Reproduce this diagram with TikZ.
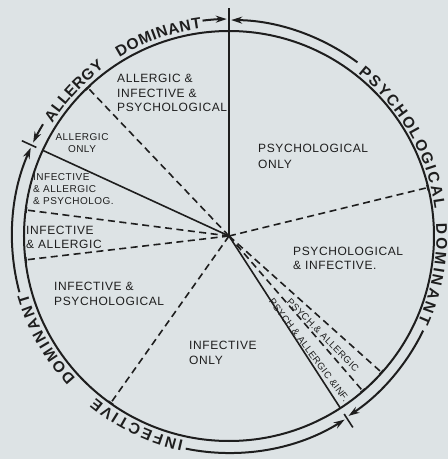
\documentclass[tikz,border=0pt]{standalone}
\usepackage{fontspec}
\setmainfont{Liberation Sans}
\newfontfamily\lblfont{Liberation Sans}[LetterSpace=5]
\newfontfamily\rimfont{Liberation Sans}
\usetikzlibrary{arrows.meta,decorations.text}
\definecolor{paper}{RGB}{221,227,229}
\definecolor{ink}{RGB}{30,30,30}
\tikzset{
  rim/.style={line width=2pt},
  spoke/.style={line width=1.6pt},
  dspoke/.style={line width=1.6pt, dash pattern=on 7pt off 4.5pt, -{Bar[width=6pt,line width=1.4pt]}},
  tick/.style={line width=1.6pt},
  rimarrow/.style={line width=2pt, -{Stealth[length=11pt,width=7pt]}},
  rimtext/.style={decorate, decoration={text along path, text align={fit to path},
      text={|\color{ink}\rimfont\bfseries\fontsize{15.5}{16}\selectfont|#1}}},
  lbl/.style={font=\lblfont\fontsize{12}{14.5}\selectfont, align=left, inner sep=0pt, anchor=west},
  small/.style={font=\lblfont\fontsize{10}{12}\selectfont},
  tiny/.style={font=\lblfont\fontsize{9.5}{11}\selectfont}
}

\begin{document}
\begin{tikzpicture}[x=1pt,y=1pt,color=ink]
  \fill[paper] (-229,-223) rectangle (219,236);
  \useasboundingbox (-229,-223) rectangle (219,236);
  \coordinate (o) at (0,0);

  % pie
  \draw[rim] (o) circle[radius=205];
  \foreach \a [count=\i] in {133.6,172.7,186.7,234.7,310.8,318.2,13.7}
    {\coordinate (d\i) at (\a:205);
     \draw[dspoke] (o) -- (d\i);}
  \coordinate (s1) at (90:228);
  \coordinate (s2) at (155.3:205);
  \coordinate (s3) at (302.9:205);
  \draw[spoke] (o) -- (s1);
  \draw[spoke] (o) -- (s2);
  \draw[spoke] (o) -- (s3);

  % dividers on the rim
  \foreach \a [count=\i] in {155.3,302.9}
    {\coordinate (ta\i) at (\a:212);
     \coordinate (tb\i) at (\a:228);
     \draw[tick] (ta\i) -- (tb\i);}

  % rim arrows
  \draw[rimarrow] (149:217) arc[start angle=149, end angle=154.5, radius=217];
  \draw[rimarrow] (97:217) arc[start angle=97, end angle=90.6, radius=217];
  \draw[rimarrow] (53.5:216) arc[start angle=53.5, end angle=89.4, radius=216];
  \draw[rimarrow] (-26:216) arc[start angle=-26, end angle=-56.4, radius=216];
  \draw[rimarrow] (258.5:217) arc[start angle=258.5, end angle=302.2, radius=217];
  \draw[rimarrow] (195:217) arc[start angle=195, end angle=156, radius=217];

  % rim text
  \path[rimtext=ALLERGY] (147.5:209.5) arc[start angle=147.5, end angle=126.5, radius=209.5];
  \path[rimtext=DOMINANT] (121.5:209.5) arc[start angle=121.5, end angle=97.5, radius=209.5];
  \path[rimtext=PSYCHOLOGICAL] (51.5:207.5) arc[start angle=51.5, end angle=7.5, radius=207.5];
  \path[rimtext=DOMINANT] (3.5:207.5) arc[start angle=3.5, end angle=-24.5, radius=207.5];
  \path[rimtext=INFECTIVE] (257.5:209.5) arc[start angle=257.5, end angle=230.5, radius=209.5];
  \path[rimtext=DOMINANT] (223:209.5) arc[start angle=223, end angle=196, radius=209.5];

  % sectors
  \node[lbl] (aip) at (-112,143) {ALLERGIC \&\\INFECTIVE \&\\PSYCHOLOGICAL};
  \node[lbl, small, align=center, anchor=center] (ao) at (-147,93) {ALLERGIC\\ONLY};
  \node[lbl, small] (iap) at (-196,47) {INFECTIVE\\\& ALLERGIC\\\& PSYCHOLOG.};
  \node[lbl] (ia) at (-203,-1.5) {INFECTIVE\\\& ALLERGIC};
  \node[lbl] (ip) at (-175,-58) {INFECTIVE \&\\PSYCHOLOGICAL};
  \node[lbl] (io) at (-40,-117) {INFECTIVE\\ONLY};
  \node[lbl] (pi) at (64,-22.5) {PSYCHOLOGICAL\\\& INFECTIVE.};
  \node[lbl, font=\lblfont\fontsize{12}{16}\selectfont] (po) at (29,80) {PSYCHOLOGICAL\\ONLY};
  \node[lbl, tiny, anchor=center, rotate=-45.5] (pa) at (94,-99) {PSYCH.\& ALLERGIC};
  \node[lbl, tiny, anchor=center, rotate=-53] (pai) at (80,-114) {PSYCH \& ALLERGIC \&INF.};
\end{tikzpicture}
\end{document}
